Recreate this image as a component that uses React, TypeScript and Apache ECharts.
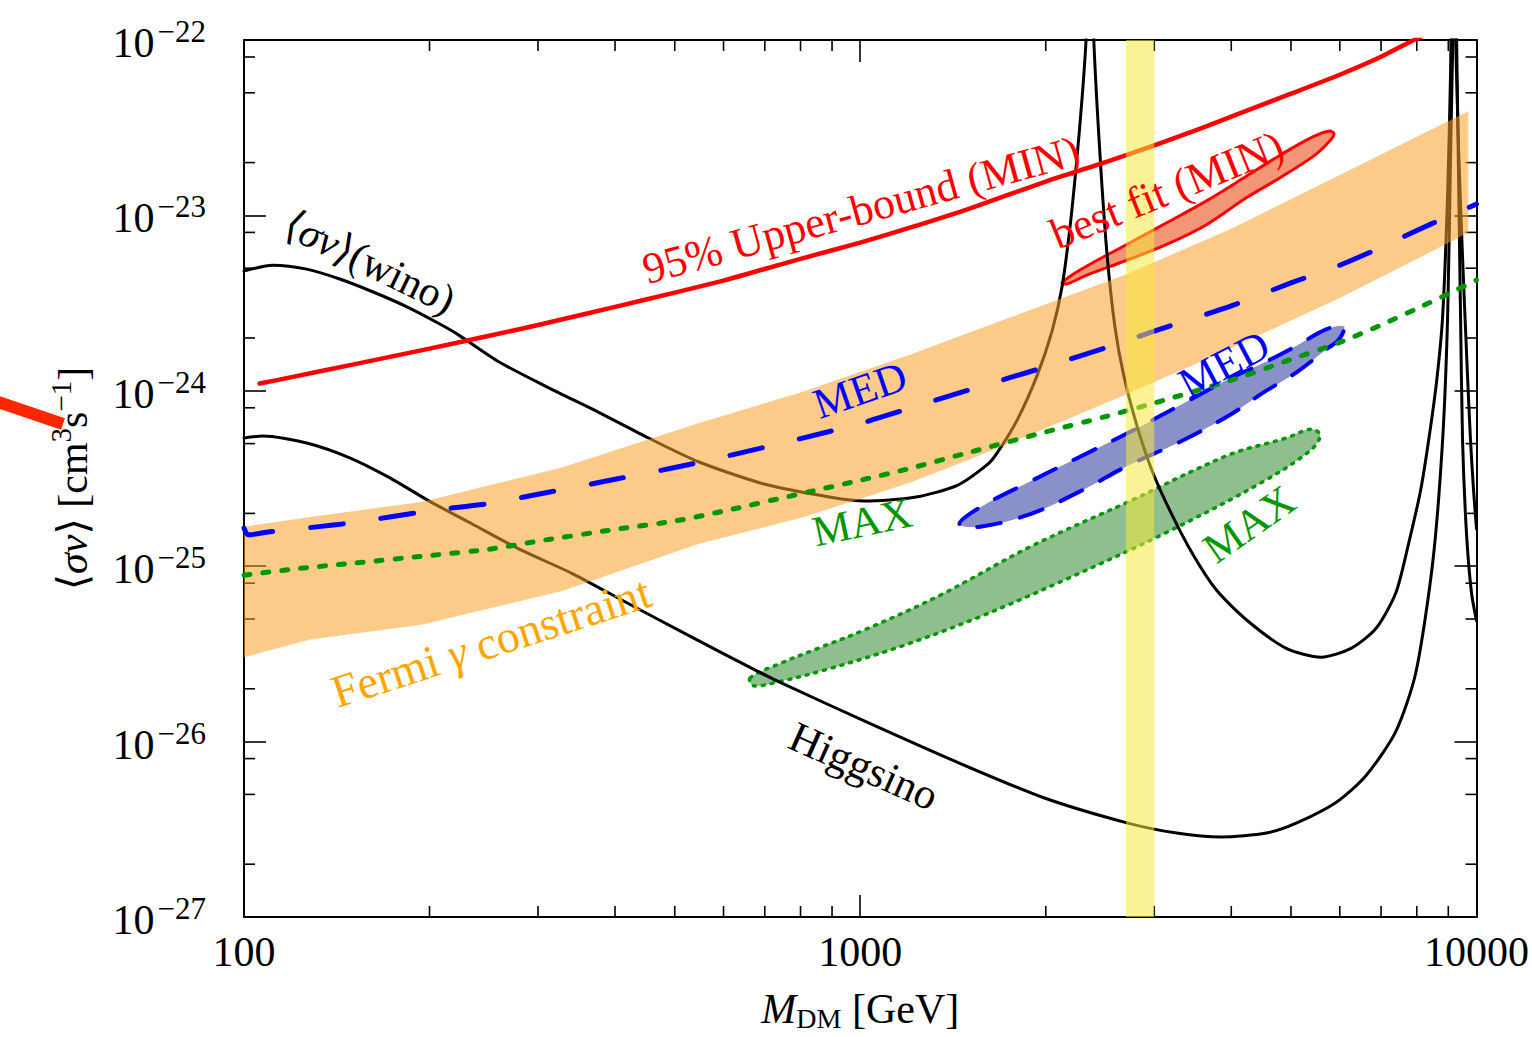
import React, { useEffect, useRef } from 'react';
import * as echarts from 'echarts';

const FONT = '"Liberation Serif", "DejaVu Serif", serif';

// axis ranges and ticks (cross-sections in cm^3 s^-1)
const X_MIN = 100;
const X_MAX = 10000;
const Y_MIN = 1e-27;
const Y_MAX = 1e-22;
const xMinorTicks = [200, 300, 400, 500, 600, 700, 800, 900, 2000, 3000, 4000, 5000, 6000, 7000, 8000, 9000];
const yMinorTicks = [2e-27, 5e-27, 8e-27, 2e-26, 5e-26, 8e-26, 2e-25, 5e-25, 8e-25, 2e-24, 5e-24, 8e-24, 2e-23, 5e-23, 8e-23];

// 95% upper bound (MIN)
const upperMass = [106, 120, 150, 200, 250, 300, 400, 500, 600, 700, 800, 1000, 1200, 1500, 2000, 2500, 3000, 3500, 4000, 5000, 6000, 7000, 8000, 8500];
const upperSigma = [1.10e-24, 1.20e-24, 1.41e-24, 1.74e-24, 2.06e-24, 2.37e-24, 3.01e-24, 3.63e-24, 4.25e-24, 4.95e-24, 5.65e-24, 7.0e-24, 8.48e-24, 1.09e-23, 1.56e-23, 2.01e-23, 2.51e-23, 3.05e-23, 3.66e-23, 4.94e-23, 6.34e-23, 8.02e-23, 1.02e-22, 1.12e-22];

// Fermi gamma constraint band
const fermiMass = [100, 128, 194, 328, 546, 800, 1200, 1500, 2000, 2700, 4000, 6000, 8000, 9700];
const fermiHigh = [1.68e-25, 1.91e-25, 2.32e-25, 3.65e-25, 6.54e-25, 9.77e-25, 1.60e-24, 2.14e-24, 3.12e-24, 4.61e-24, 8.40e-24, 1.70e-23, 2.81e-23, 3.93e-23];
const fermiLow = [3.03e-26, 3.82e-26, 4.64e-26, 7.21e-26, 1.34e-25, 1.88e-25, 2.98e-25, 4.04e-25, 6.11e-25, 9.52e-25, 1.75e-24, 3.38e-24, 5.64e-24, 7.98e-24];

// MED (dashed)
const medMass = [100, 101.5, 110, 130, 150, 200, 250, 300, 400, 500, 600, 800, 1000, 1200, 1500, 2000, 2500, 3000, 4000, 5000, 6000, 7000, 8000, 9000, 10000];
const medSigma = [1.65e-25, 1.51e-25, 1.57e-25, 1.67e-25, 1.77e-25, 2.07e-25, 2.28e-25, 2.57e-25, 3.13e-25, 3.65e-25, 4.20e-25, 5.34e-25, 6.51e-25, 7.93e-25, 1.01e-24, 1.37e-24, 1.76e-24, 2.19e-24, 3.05e-24, 4.12e-24, 5.20e-24, 6.57e-24, 8.20e-24, 9.88e-24, 1.16e-23];

// MAX (dotted)
const maxMass = [100, 120, 150, 200, 250, 300, 400, 500, 600, 800, 1000, 1200, 1500, 2000, 2500, 3000, 4000, 5000, 6000, 7000, 8000, 9000, 10000];
const maxSigma = [8.88e-26, 9.62e-26, 1.04e-25, 1.15e-25, 1.25e-25, 1.39e-25, 1.62e-25, 1.81e-25, 2.06e-25, 2.59e-25, 3.09e-25, 3.60e-25, 4.45e-25, 5.83e-25, 7.13e-25, 8.52e-25, 1.15e-24, 1.51e-24, 1.89e-24, 2.37e-24, 2.94e-24, 3.57e-24, 4.28e-24];

// wino <sigma v> (three branches between resonances)
const winoMassA = [100, 111.4, 126.4, 143, 161.7, 183.5, 207.5, 223.5, 259.4, 312.3, 376.3, 453.3, 546.2, 701, 896, 1017, 1225, 1437, 1607, 1668, 1797, 1936, 2047, 2125, 2189, 2247, 2290, 2324, 2342];
const winoSigmaA = [4.81e-24, 5.20e-24, 4.94e-24, 4.34e-24, 3.67e-24, 3.02e-24, 2.41e-24, 2.07e-24, 1.46e-24, 1.04e-24, 7.54e-25, 5.38e-25, 3.94e-25, 2.93e-25, 2.47e-25, 2.35e-25, 2.47e-25, 2.89e-25, 3.79e-25, 4.43e-25, 6.80e-25, 1.22e-24, 2.18e-24, 3.91e-24, 8.51e-24, 2.11e-23, 4.60e-23, 9.74e-23, 2.18e-22];
const winoMassB = [2385, 2394, 2448, 2513, 2589, 2677, 2810, 2971, 3201, 3474, 3784, 4231, 4912, 5596, 6257, 6866, 7396, 7764, 8120, 8364, 8617, 8811, 8977, 9078, 9111];
const winoSigmaB = [2.18e-22, 9.74e-23, 2.28e-23, 6.16e-24, 2.33e-24, 1.22e-24, 6.37e-25, 3.55e-25, 1.98e-25, 1.15e-25, 7.31e-26, 4.95e-26, 3.40e-26, 3.03e-26, 3.40e-26, 4.41e-26, 7.03e-26, 1.36e-25, 2.74e-25, 5.24e-25, 1.14e-24, 2.65e-24, 1.32e-23, 6.69e-23, 2.18e-22];
const winoMassC = [9180, 9250, 9352, 9492, 9670, 9778, 9888, 10000];
const winoSigmaC = [2.18e-22, 1.0e-22, 2.40e-23, 5.77e-24, 1.22e-24, 5.24e-25, 2.74e-25, 1.63e-25];

// Higgsino (two branches)
const higgsMassA = [100, 107.3, 126.4, 148.4, 172.2, 199.8, 234.6, 282.5, 340.4, 410.1, 526.3, 685.5, 755.1, 1021, 1421, 1980, 2718, 3262, 3856, 4560, 5098, 5916, 6615, 7396, 7969, 8491, 8811, 8977, 9078, 9146, 9180];
const higgsSigmaA = [5.38e-25, 5.52e-25, 5.04e-25, 4.15e-25, 3.20e-25, 2.35e-25, 1.74e-25, 1.23e-25, 9.11e-26, 6.42e-26, 4.03e-26, 2.49e-26, 2.11e-26, 1.30e-26, 7.76e-27, 4.80e-27, 3.43e-27, 3.01e-27, 2.86e-27, 3.01e-27, 3.43e-27, 4.50e-27, 6.39e-27, 1.14e-26, 2.46e-26, 1.05e-25, 5.24e-25, 2.65e-24, 2.28e-23, 8.67e-23, 2.18e-22];
const higgsMassB = [9250, 9284, 9352, 9422, 9492, 9634, 9815, 10000];
const higgsSigmaB = [2.18e-22, 1.0e-22, 1.63e-23, 2.65e-24, 5.24e-25, 1.53e-25, 7.03e-26, 4.89e-26];

// best-fit contours
const minFitMass = [2125, 2273, 2707, 3142, 3646, 4231, 4786, 5432, 5764, 5873, 5764, 5432, 4786, 4231, 3646, 3142, 2707, 2333, 2165];
const minFitSigma = [4.12e-24, 4.88e-24, 6.83e-24, 9.08e-24, 1.21e-23, 1.67e-23, 2.19e-23, 2.81e-23, 3.03e-23, 2.92e-23, 2.63e-23, 2.17e-23, 1.63e-23, 1.26e-23, 8.85e-24, 6.83e-24, 5.55e-24, 4.57e-24, 4.07e-24];
const medFitMass = [1448, 1566, 1887, 2273, 2738, 3298, 3972, 4508, 5098, 5700, 6095, 5984, 5700, 5098, 4508, 3972, 3298, 2738, 2273, 1887, 1566];
const medFitSigma = [1.74e-25, 2.17e-25, 3.04e-25, 4.21e-25, 5.82e-25, 8.25e-25, 1.17e-24, 1.44e-24, 1.80e-24, 2.24e-24, 2.33e-24, 1.97e-24, 1.72e-24, 1.27e-24, 9.77e-25, 7.25e-25, 5.11e-25, 3.79e-25, 2.67e-25, 1.98e-25, 1.68e-25];
const maxFitMass = [663, 736, 854, 1028, 1350, 1887, 2738, 3972, 4912, 5392, 5575, 5392, 4508, 3108, 2141, 1549, 1150, 886, 736, 670];
const maxFitSigma = [2.31e-26, 2.76e-26, 3.40e-26, 4.41e-26, 6.85e-26, 1.29e-25, 2.35e-25, 4.32e-25, 5.38e-25, 6.05e-25, 5.59e-25, 4.61e-25, 3.04e-25, 1.53e-25, 8.32e-26, 5.08e-26, 3.44e-26, 2.59e-26, 2.19e-26, 2.08e-26];

// yellow vertical band (mass range)
const yellowBand = [2700, 3000];

// The y axis is plotted in units of 1e-27 cm^3/s (ECharts rounds tiny numbers to 0)
const Y_UNIT = 1e-27;
const sy = (v: number) => v / Y_UNIT;
const zip = (xs: number[], ys: number[]) => xs.map((x, i) => [x, sy(ys[i])]);

const lineSeries = (xs: number[], ys: number[], color: string, width: number, type: any, z: number, smooth: any = 0.25) => ({
  type: 'line',
  data: zip(xs, ys),
  showSymbol: false,
  symbol: 'none',
  silent: true,
  z,
  smooth,
  lineStyle: { color, width, type, cap: 'round', join: 'round' },
  emphasis: { disabled: true },
});

const polygonSeries = (pts: number[][], style: any, z: number, smooth = 0) => ({
  type: 'custom',
  coordinateSystem: 'cartesian2d',
  data: pts,
  encode: { x: 0, y: 1 },
  silent: true,
  z,
  renderItem: (params: any, api: any) => {
    if (params.dataIndex !== 0) return null;
    return {
      type: 'polygon',
      shape: { points: pts.map((p) => api.coord(p)), smooth },
      style,
    };
  },
});

const tickSeries = (vals: number[], isX: boolean) => ({
  type: 'custom',
  coordinateSystem: 'cartesian2d',
  data: vals.map((v) => (isX ? [v, sy(Y_MIN)] : [X_MIN, sy(v)])),
  encode: { x: 0, y: 1 },
  silent: true,
  z: 1,
  renderItem: (params: any, api: any) => {
    const cs = params.coordSys;
    const p = api.coord([api.value(0), api.value(1)]);
    const st = { stroke: '#000', lineWidth: 1.6 };
    if (isX) {
      const b = cs.y + cs.height;
      return {
        type: 'group',
        children: [
          { type: 'line', shape: { x1: p[0], y1: b, x2: p[0], y2: b - 11 }, style: st },
          { type: 'line', shape: { x1: p[0], y1: cs.y, x2: p[0], y2: cs.y + 11 }, style: st },
        ],
      };
    }
    const r = cs.x + cs.width;
    return {
      type: 'group',
      children: [
        { type: 'line', shape: { x1: cs.x, y1: p[1], x2: cs.x + 11, y2: p[1] }, style: st },
        { type: 'line', shape: { x1: r, y1: p[1], x2: r - 11, y2: p[1] }, style: st },
      ],
    };
  },
});

const deg = (d: number) => (d * Math.PI) / 180;

const label = (text: string, x: number, y: number, rot: number, color: string, size: number, rich?: any) => ({
  type: 'text',
  x,
  y,
  rotation: deg(rot),
  z: 100,
  silent: true,
  style: {
    text,
    x: 0,
    y: 0,
    align: 'center',
    verticalAlign: 'middle',
    fill: color,
    fontSize: size,
    fontFamily: FONT,
    rich,
  },
});

const axisBase = {
  type: 'log',
  logBase: 10,
  splitLine: { show: false },
  minorTick: { show: false },
  axisLine: { show: true, lineStyle: { color: '#000', width: 2 } },
  axisTick: { show: true, inside: true, length: 22, lineStyle: { color: '#000', width: 1.6 } },
};

export default function App() {
  const ref = useRef<HTMLDivElement>(null);
  useEffect(() => {
    const chart = echarts.init(ref.current!, null, { renderer: 'svg' });
    const fermiPts = [...zip(fermiMass, fermiHigh), ...zip(fermiMass, fermiLow).reverse()];
    const yellowPts = zip(
      [yellowBand[0], yellowBand[1], yellowBand[1], yellowBand[0]],
      [Y_MAX, Y_MAX, Y_MIN, Y_MIN]
    );
    const option: any = {
      animation: false,
      backgroundColor: '#fff',
      textStyle: { fontFamily: FONT },
      grid: { left: 244, top: 40, width: 1237, height: 888, show: false },
      xAxis: [
        {
          ...axisBase,
          min: X_MIN,
          max: X_MAX,
          position: 'bottom',
          axisLabel: {
            show: true,
            margin: 14,
            color: '#000',
            fontSize: 42,
            fontFamily: FONT,
            formatter: (v: number) => String(Math.round(v)),
          },
          name: '{i|M}{d|DM}{n| [GeV]}',
          nameLocation: 'middle',
          nameGap: 71,
          nameTextStyle: {
            rich: {
              i: { fontSize: 42, lineHeight: 44, verticalAlign: 'top', fontStyle: 'italic', fontFamily: FONT, color: '#000' },
              d: { fontSize: 28, lineHeight: 28, padding: [20, 0, 0, 0], verticalAlign: 'bottom', fontFamily: FONT, color: '#000' },
              n: { fontSize: 42, lineHeight: 44, verticalAlign: 'top', fontFamily: FONT, color: '#000' },
            },
          },
        },
        {
          ...axisBase,
          min: X_MIN,
          max: X_MAX,
          position: 'top',
          axisLabel: { show: false },
        },
      ],
      yAxis: [
        {
          ...axisBase,
          min: sy(Y_MIN),
          max: sy(Y_MAX),
          position: 'left',
          axisLabel: {
            show: true,
            margin: 38,
            formatter: (v: number) => `{b|10}{s|−${Math.abs(Math.round(Math.log10(v * Y_UNIT)))}}`,
            rich: {
              b: { fontSize: 42, lineHeight: 48, verticalAlign: 'bottom', padding: [0, 3, 0, 0], fontFamily: FONT, color: '#000' },
              s: { fontSize: 31, lineHeight: 28, verticalAlign: 'top', fontFamily: FONT, color: '#000' },
            },
          },
          name: '{n|⟨}{i|σv}{n|⟩ [cm}{s|3}{n|s}{s|−1}{n|]}',
          nameLocation: 'middle',
          nameRotate: 90,
          nameGap: 150,
          nameTextStyle: {
            rich: {
              n: { fontSize: 42, lineHeight: 48, verticalAlign: 'bottom', fontFamily: FONT, color: '#000' },
              i: { fontSize: 42, lineHeight: 48, verticalAlign: 'bottom', fontStyle: 'italic', fontFamily: FONT, color: '#000' },
              s: { fontSize: 29, lineHeight: 28, verticalAlign: 'top', fontFamily: FONT, color: '#000' },
            },
          },
        },
        {
          ...axisBase,
          min: sy(Y_MIN),
          max: sy(Y_MAX),
          position: 'right',
          axisLabel: { show: false },
        },
      ],
      series: [
        tickSeries(xMinorTicks, true),
        tickSeries(yMinorTicks, false),
        polygonSeries(zip(minFitMass, minFitSigma), { fill: '#f39678', stroke: '#ff0000', lineWidth: 3 }, 2, 0.35),
        polygonSeries(zip(medFitMass, medFitSigma), { fill: '#8991c8', stroke: '#0000ff', lineWidth: 4, lineDash: [24, 20], lineCap: 'round' }, 2, 0.35),
        polygonSeries(zip(maxFitMass, maxFitSigma), { fill: '#8fbe8f', stroke: '#009600', lineWidth: 3.5, lineDash: [2, 7], lineCap: 'round' }, 2, 0.35),
        lineSeries(winoMassA, winoSigmaA, '#000', 3, 'solid', 3),
        lineSeries(winoMassB, winoSigmaB, '#000', 3, 'solid', 3),
        lineSeries(winoMassC, winoSigmaC, '#000', 3, 'solid', 3),
        lineSeries(higgsMassA, higgsSigmaA, '#000', 3, 'solid', 3),
        lineSeries(higgsMassB, higgsSigmaB, '#000', 3, 'solid', 3),
        polygonSeries(fermiPts, { fill: 'rgba(250,160,40,0.55)' }, 4),
        lineSeries(upperMass, upperSigma, '#ff0000', 4.5, 'solid', 5, 0.2),
        lineSeries(medMass, medSigma, '#0000ff', 5, [33, 38], 5),
        lineSeries(maxMass, maxSigma, '#009600', 5, [6, 13], 5),
        polygonSeries(yellowPts, { fill: 'rgba(245,232,60,0.55)' }, 6),
      ],
      graphic: [
        label('{n|⟨}{i|σv}{n|⟩(wino)}', 370, 262, -26, '#000', 42, {
          n: { fontSize: 42, fontFamily: FONT, fill: '#000' },
          i: { fontSize: 42, fontFamily: FONT, fontStyle: 'italic', fill: '#000' },
        }),
        label('95% Upper-bound (MIN)', 861, 210, 15.5, '#ff0000', 44),
        label('best fit (MIN)', 1167, 190, 22, '#ff0000', 44),
        label('MED', 860, 390, 19, '#0000ff', 43),
        label('MAX', 862, 522, 12, '#009600', 43),
        label('MED', 1224, 364, 28, '#0000ff', 43),
        label('MAX', 1249, 524, 35, '#009600', 43),
        label('{n|Fermi }{i|γ}{n| constraint}', 491, 642, 18, '#ffa500', 46, {
          n: { fontSize: 46, fontFamily: FONT, fill: '#ffa500' },
          i: { fontSize: 46, fontFamily: FONT, fontStyle: 'italic', fill: '#ffa500' },
        }),
        label('Higgsino', 864, 766, -24, '#000', 43),
        {
          type: 'line',
          z: 100,
          silent: true,
          shape: { x1: -5, y1: 401, x2: 63, y2: 424 },
          style: { stroke: '#ff2600', lineWidth: 12 },
        },
      ],
    };
    chart.setOption(option);
    return () => chart.dispose();
  }, []);
  return (
    <div
      ref={ref}
      style={{ position: 'fixed', left: 0, top: 0, width: 1532, height: 1037, background: '#fff' }}
    />
  );
}
